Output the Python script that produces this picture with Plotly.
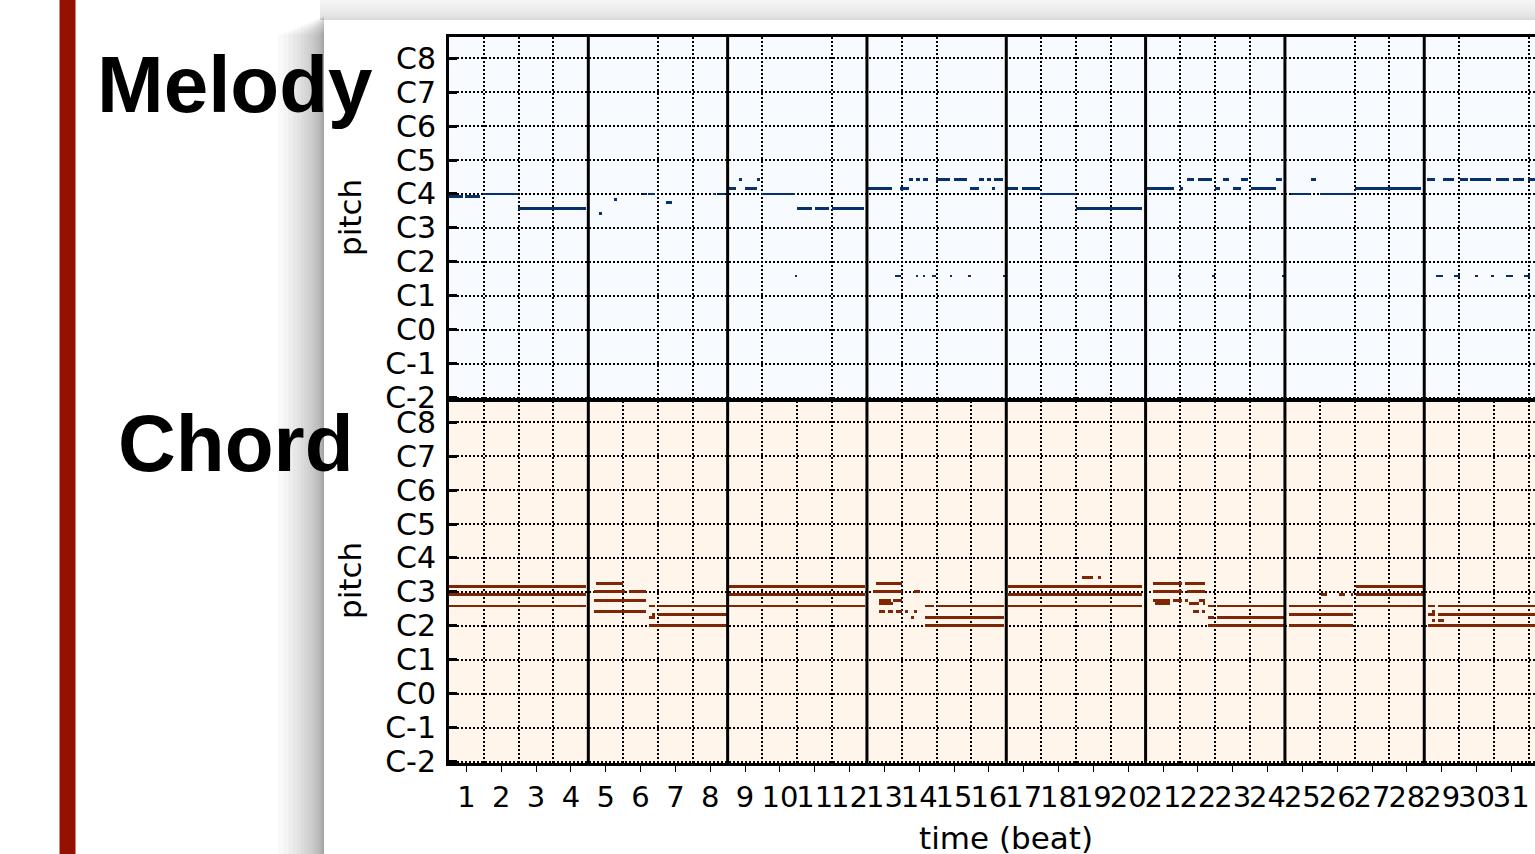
import plotly.graph_objects as go

# ---------------- data ----------------
# Melody notes: pitch (MIDI number), start beat, end beat
mel_pitch = [71, 71, 72, 67,
             65, 70, 72, 72, 69, 72, 72,
             74, 77, 74, 77, 72, 43, 67, 67, 67,
             74, 74, 43, 77, 77, 77, 77, 77, 77, 77, 77, 74, 74,
             43, 43, 43, 43, 43, 43, 43,
             74, 74, 72, 67,
             74, 74, 43, 77, 77, 43, 74, 77, 74, 77, 74, 77, 43,
             72, 77, 72, 74,
             77, 43, 77, 43, 77, 77, 43, 43, 77, 43, 77, 43, 77]
mel_start = [0.0, 0.46, 0.99, 1.99,
             4.31, 4.74, 5.57, 5.72, 6.24, 7.59, 7.76,
             8.0, 8.33, 8.5, 8.85, 9.0, 9.92, 10.0, 10.5, 11.0,
             12.02, 12.95, 12.8, 13.21, 13.4, 13.6, 13.98, 14.5, 15.22, 15.45, 15.65, 14.97, 15.6,
             13.4, 13.6, 13.88, 14.37, 14.9, 15.9, 12.8,
             16.02, 16.45, 16.97, 18.0,
             20.03, 21.0, 20.92, 21.2, 21.49, 21.91, 22.0, 22.23, 22.5, 22.75, 23.03, 23.74, 23.93,
             24.18, 24.75, 25.0, 26.0,
             28.07, 28.35, 28.53, 28.84, 29.04, 29.31, 29.45, 29.92, 30.05, 30.36, 30.54, 30.85, 30.97]
mel_end = [0.4, 0.9, 1.97, 3.92,
           4.4, 4.83, 5.66, 5.92, 6.41, 7.67, 7.93,
           8.25, 8.42, 8.85, 8.94, 9.93, 10.0, 10.43, 10.9, 11.92,
           12.72, 13.2, 12.97, 13.33, 13.52, 13.75, 14.37, 14.87, 15.35, 15.55, 15.9, 15.22, 15.68,
           13.47, 13.67, 13.97, 14.45, 14.98, 15.98, 12.97,
           16.35, 16.97, 18.0, 19.91,
           20.81, 21.08, 21.0, 21.4, 21.91, 21.99, 22.13, 22.38, 22.75, 22.94, 23.74, 23.93, 24.0,
           24.73, 24.9, 25.97, 27.92,
           28.32, 28.53, 28.85, 29.03, 29.25, 29.93, 29.53, 30.01, 30.42, 30.54, 30.85, 31.04, 31.3]

# Chord notes: pitch, start beat, end beat
chd_pitch = [62, 59, 55,
             63, 60, 60, 57, 53, 55, 52, 51, 55, 52, 48,
             62, 59, 55,
             63, 60, 60, 57, 57, 56, 53, 53, 53, 53, 53, 51, 55, 55, 51, 48,
             62, 59, 55, 65, 65,
             63, 63, 60, 60, 57, 57, 57, 57, 56, 56, 56, 53, 53, 55, 55, 51, 51, 48,
             59, 59, 59, 55, 52, 48, 62, 59, 55,
             55, 55, 52, 52, 53, 50, 50, 48]
chd_start = [0.0, 0.0, 0.0,
             4.22, 4.16, 5.18, 4.16, 4.16, 5.74, 5.83, 5.74, 6.01, 6.01, 5.74,
             8.02, 8.02, 8.02,
             12.26, 12.16, 13.34, 12.35, 12.75, 12.35, 12.35, 12.6, 12.83, 13.08, 13.34, 13.25, 13.67, 14.01, 13.67, 13.67,
             16.04, 16.04, 16.04, 18.16, 18.64,
             20.21, 21.12, 20.21, 21.19, 20.21, 20.79, 21.12, 21.54, 20.27, 21.26, 21.65, 21.36, 21.62, 21.79, 22.04, 21.79, 22.04, 21.79,
             25.04, 25.56, 25.9, 24.11, 24.11, 24.11, 26.05, 26.05, 26.05,
             28.11, 28.4, 28.11, 28.4, 28.22, 28.22, 28.4, 28.11]
chd_end = [3.92, 3.92, 3.92,
           5.0, 5.05, 5.66, 5.66, 5.66, 5.92, 5.92, 5.92, 7.99, 7.97, 7.99,
           11.95, 11.95, 11.95,
           13.0, 13.0, 13.51, 12.7, 13.0, 12.75, 12.52, 12.75, 13.0, 13.18, 13.44, 13.34, 13.92, 15.93, 15.93, 15.93,
           19.91, 19.91, 19.91, 18.49, 18.72,
           21.04, 21.7, 21.04, 21.7, 20.69, 21.04, 21.21, 21.7, 20.69, 21.54, 21.7, 21.54, 21.7, 21.95, 23.96, 21.95, 23.96, 23.96,
           25.21, 25.72, 25.95, 25.95, 25.95, 25.95, 27.96, 27.96, 27.96,
           28.31, 31.3, 28.31, 31.3, 28.31, 28.31, 28.56, 31.3]

pitch_tick_vals = [0, 12, 24, 36, 48, 60, 72, 84, 96, 108, 120]
pitch_tick_text = ["C-2", "C-1", "C0", "C1", "C2", "C3", "C4", "C5", "C6", "C7", "C8"]
beat_labels = [str(i) for i in range(1, 32)]
beat_label_pos = [i - 0.5 for i in range(1, 32)]
bar_starts = [4, 8, 12, 16, 20, 24, 28]

# ---------------- styling ----------------
W, H = 1535, 854
MEL_COLOR = "#08306b"
CHD_COLOR = "#7f2704"
MEL_BG = "#f7fbff"
CHD_BG = "#fff5eb"
XTICK_FONT = dict(family="DejaVu Sans", size=29, color="black")
YTICK_FONT = dict(family="DejaVu Sans", size=30, color="black")


def px(x):
    return x / W


def py(y):
    return 1 - y / H


x_dom = [px(449), 1.0]
chd_dom = [py(763), py(401)]
mel_dom = [py(399), py(37)]
x_range = [0, (W - 449) / 34.83]

fig = go.Figure()
fig.add_trace(go.Bar(
    orientation="h", y=mel_pitch, base=mel_start,
    x=[e - s for s, e in zip(mel_start, mel_end)], width=1,
    marker=dict(color=MEL_COLOR, line=dict(width=0)),
    xaxis="x2", yaxis="y2", showlegend=False, name="Melody"))
fig.add_trace(go.Bar(
    orientation="h", y=chd_pitch, base=chd_start,
    x=[e - s for s, e in zip(chd_start, chd_end)], width=1,
    marker=dict(color=CHD_COLOR, line=dict(width=0)),
    xaxis="x", yaxis="y", showlegend=False, name="Chord"))

grid_common = dict(gridcolor="black", gridwidth=1.5, griddash="2px,2px")

xcommon = dict(domain=x_dom, range=x_range, showline=True, mirror=True,
               linewidth=3, linecolor="black", showgrid=False, zeroline=False,
               automargin=False,
               minor=dict(tickmode="linear", tick0=0, dtick=1, showgrid=True,
                          ticks="", **grid_common))
ycommon = dict(range=[-0.5, 127.5], tickmode="array", tickvals=pitch_tick_vals,
               ticktext=pitch_tick_text, ticks="inside", ticklen=8, tickwidth=2.5,
               tickcolor="black", showline=True, mirror=False, linewidth=3,
               linecolor="black", showgrid=True, zeroline=False, automargin=False,
               tickfont=YTICK_FONT, ticklabelstandoff=4, **grid_common)

shapes = []
# backgrounds of the two panels
for yr, col in (("y", CHD_BG), ("y2", MEL_BG)):
    xr = "x" if yr == "y" else "x2"
    shapes.append(dict(type="rect", xref=f"{xr} domain", yref=f"{yr} domain",
                       x0=0, x1=1, y0=0, y1=1, fillcolor=col, line=dict(width=0),
                       layer="below"))
# slide red bar
shapes.append(dict(type="rect", xref="paper", yref="paper", x0=px(59.5), x1=px(75.5),
                   y0=0, y1=1, fillcolor="#941100", line=dict(width=0), layer="below"))
# panel drop shadow (left and top)
N = 20
for k in range(N):
    w = 46 * ((k + 1) / N) ** 2.4
    shapes.append(dict(type="rect", xref="paper", yref="paper", x0=px(324 - w), x1=px(324),
                       y0=0, y1=py(16 + 0.4 * w), fillcolor="black", opacity=0.022,
                       line=dict(width=0), layer="below"))
    h = 30 * ((k + 1) / N) ** 1.8
    shapes.append(dict(type="rect", xref="paper", yref="paper", x0=px(320), x1=1,
                       y0=py(20), y1=py(20 - h), fillcolor="black", opacity=0.0065,
                       line=dict(width=0), layer="below"))
# bar lines (every 4 beats)
for yr, xr in (("y", "x"), ("y2", "x2")):
    for b in bar_starts:
        shapes.append(dict(type="line", xref=xr, yref=f"{yr} domain", x0=b, x1=b,
                           y0=0, y1=1, line=dict(color="black", width=3),
                           layer="above"))

annotations = [
    dict(text="<b>Melody</b>", x=px(95), y=py(84), xref="paper", yref="paper",
         xanchor="left", yanchor="middle", showarrow=False,
         font=dict(family="Liberation Sans", size=80, color="black")),
    dict(text="<b>Chord</b>", x=px(116), y=py(443), xref="paper", yref="paper",
         xanchor="left", yanchor="middle", showarrow=False,
         font=dict(family="Liberation Sans", size=80, color="black")),
    dict(text="pitch", x=px(350), y=py(218), xref="paper", yref="paper",
         xanchor="center", yanchor="middle", textangle=-90, showarrow=False,
         font=dict(family="DejaVu Sans", size=31, color="black")),
    dict(text="pitch", x=px(350), y=py(581), xref="paper", yref="paper",
         xanchor="center", yanchor="middle", textangle=-90, showarrow=False,
         font=dict(family="DejaVu Sans", size=31, color="black")),
    dict(text="time (beat)", x=px(1006), y=py(838), xref="paper", yref="paper",
         xanchor="center", yanchor="middle", showarrow=False,
         font=dict(family="DejaVu Sans", size=31, color="black")),
]

fig.update_layout(
    template="none",
    width=W, height=H,
    margin=dict(l=0, r=0, t=0, b=0, pad=0),
    paper_bgcolor="white",
    plot_bgcolor="rgba(0,0,0,0)",
    barmode="overlay",
    bargap=0,
    showlegend=False,
    xaxis=dict(anchor="y", tickmode="array", tickvals=beat_label_pos, ticktext=beat_labels,
               ticks="outside", ticklen=6, tickwidth=1, tickcolor="black", tickangle=0,
               tickfont=XTICK_FONT, **xcommon),
    xaxis2=dict(anchor="y2", matches="x", showticklabels=False, ticks="", **xcommon),
    yaxis=dict(anchor="x", domain=chd_dom, **ycommon),
    yaxis2=dict(anchor="x2", domain=mel_dom, **ycommon),
    shapes=shapes,
    annotations=annotations,
)

fig.write_html(
    "out.html",
    config={"displayModeBar": False},
    post_script="document.body.style.margin='0';document.body.style.overflow='hidden';",
)
